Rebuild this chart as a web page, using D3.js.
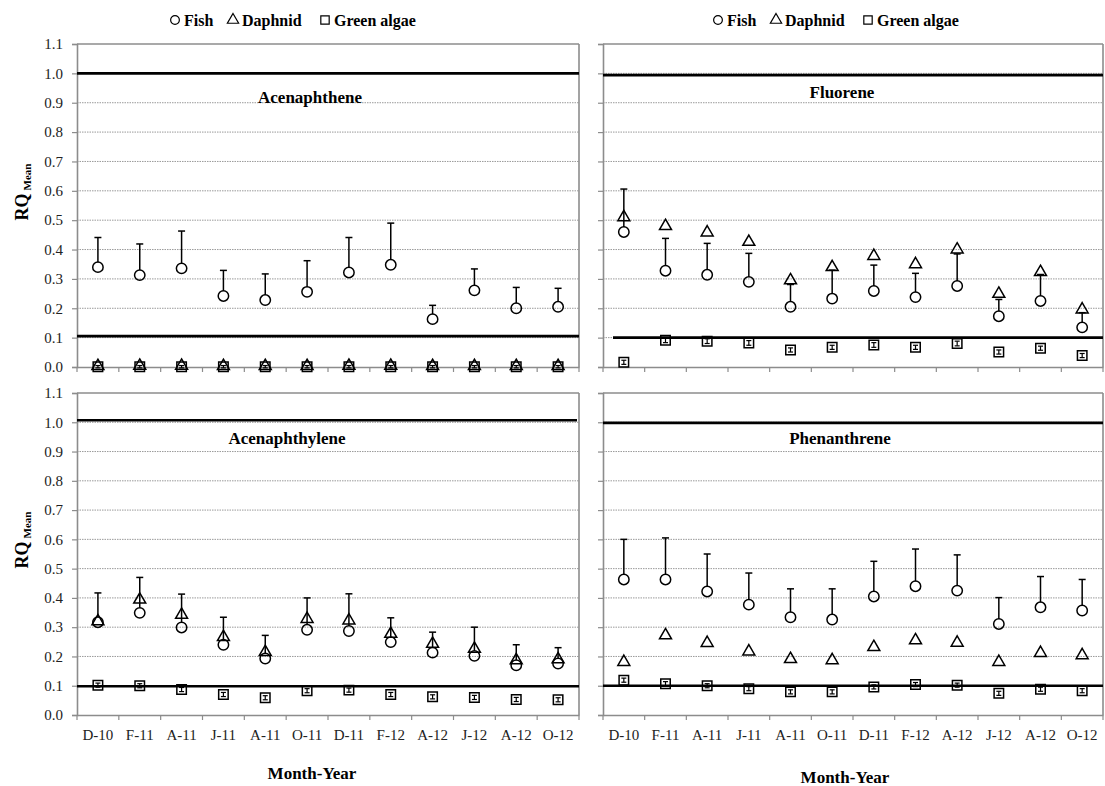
<!DOCTYPE html>
<html>
<head>
<meta charset="utf-8">
<script src="https://cdn.jsdelivr.net/npm/d3@7"></script>
<style>
  body { margin: 0; background: #fff; }
  svg { display: block; font-family: "Liberation Serif", "Times New Roman", serif; }
</style>
</head>
<body>
<div id="chart"></div>
<script>
// Meses de muestreo (eje X)
const months = ["D-10", "F-11", "A-11", "J-11", "A-11 ", "O-11", "D-11", "F-12", "A-12", "J-12", "A-12 ", "O-12"];
const seriesNames = ["Fish", "Daphnid", "Green algae"];
const yTicks = [0, 0.1, 0.2, 0.3, 0.4, 0.5, 0.6, 0.7, 0.8, 0.9, 1.0, 1.1];

// Acenaphthene
const acenaphtheneFish = [0.340, 0.313, 0.336, 0.242, 0.228, 0.256, 0.322, 0.348, 0.163, 0.261, 0.200, 0.205];
const acenaphtheneFishErr = [0.101, 0.106, 0.127, 0.087, 0.089, 0.106, 0.119, 0.142, 0.047, 0.073, 0.071, 0.063];
const acenaphtheneDaphnid = [0.003, 0.004, 0.004, 0.003, 0.003, 0.003, 0.004, 0.004, 0.003, 0.003, 0.003, 0.003];
const acenaphtheneAlgae = [0.001, 0.001, 0.001, 0.001, 0.001, 0.001, 0.001, 0.001, 0.001, 0.001, 0.001, 0.001];
const acenaphtheneAlgaeErr = [0.004, 0.004, 0.004, 0.004, 0.004, 0.004, 0.004, 0.004, 0.004, 0.004, 0.004, 0.004];

// Fluorene
const fluoreneFish = [0.460, 0.328, 0.314, 0.290, 0.205, 0.233, 0.259, 0.238, 0.276, 0.173, 0.225, 0.135];
const fluoreneFishErr = [0.146, 0.110, 0.107, 0.097, 0.076, 0.097, 0.088, 0.081, 0.109, 0.057, 0.090, 0.050];
const fluoreneDaphnid = [0.510, 0.480, 0.458, 0.426, 0.295, 0.340, 0.378, 0.350, 0.400, 0.249, 0.323, 0.196];
const fluoreneAlgae = [0.016, 0.091, 0.088, 0.082, 0.058, 0.067, 0.075, 0.067, 0.080, 0.051, 0.064, 0.039];
const fluoreneAlgaeErr = [0.007, 0.008, 0.008, 0.008, 0.007, 0.007, 0.008, 0.007, 0.008, 0.007, 0.007, 0.007];

// Acenaphthylene
const acenaphthyleneFish = [0.317, 0.349, 0.299, 0.240, 0.193, 0.291, 0.287, 0.249, 0.213, 0.202, 0.170, 0.176];
const acenaphthyleneFishErr = [0.100, 0.121, 0.114, 0.094, 0.079, 0.109, 0.127, 0.083, 0.070, 0.098, 0.070, 0.054];
const acenaphthyleneDaphnid = [0.320, 0.394, 0.342, 0.266, 0.215, 0.328, 0.323, 0.277, 0.243, 0.226, 0.187, 0.190];
const acenaphthyleneAlgae = [0.102, 0.100, 0.087, 0.070, 0.059, 0.083, 0.085, 0.070, 0.062, 0.060, 0.053, 0.052];
const acenaphthyleneAlgaeErr = [0.007, 0.007, 0.007, 0.007, 0.007, 0.007, 0.007, 0.007, 0.007, 0.007, 0.007, 0.007];

// Phenanthrene
const phenanthreneFish = [0.463, 0.463, 0.422, 0.377, 0.334, 0.326, 0.405, 0.440, 0.425, 0.311, 0.368, 0.357];
const phenanthreneFishErr = [0.137, 0.142, 0.128, 0.108, 0.097, 0.105, 0.120, 0.127, 0.122, 0.090, 0.105, 0.106];
const phenanthreneDaphnid = [0.181, 0.272, 0.246, 0.217, 0.191, 0.187, 0.232, 0.255, 0.247, 0.181, 0.212, 0.204];
const phenanthreneAlgae = [0.119, 0.107, 0.100, 0.090, 0.079, 0.079, 0.096, 0.104, 0.102, 0.074, 0.088, 0.083];
const phenanthreneAlgaeErr = [0.007, 0.007, 0.007, 0.007, 0.007, 0.007, 0.007, 0.007, 0.007, 0.007, 0.007, 0.007];

// Umbrales de riesgo dibujados en cada panel
const thresholdHigh = [1.0, 0.994, 1.007, 0.998];
const thresholdLow = [0.105, 0.100, 0.098, 0.100];

const panels = [
    { name: "Acenaphthene", fish: acenaphtheneFish, fishErr: acenaphtheneFishErr, daphnid: acenaphtheneDaphnid, algae: acenaphtheneAlgae, algaeErr: acenaphtheneAlgaeErr,
      x0: 77, x1: 579, yTop: 44, yBot: 367, col: 0, row: 0, titleX: 310, titleV: 0.92 },
    { name: "Fluorene", fish: fluoreneFish, fishErr: fluoreneFishErr, daphnid: fluoreneDaphnid, algae: fluoreneAlgae, algaeErr: fluoreneAlgaeErr,
      x0: 603, x1: 1103, yTop: 44, yBot: 367, col: 1, row: 0, titleX: 842, titleV: 0.935 },
    { name: "Acenaphthylene", fish: acenaphthyleneFish, fishErr: acenaphthyleneFishErr, daphnid: acenaphthyleneDaphnid, algae: acenaphthyleneAlgae, algaeErr: acenaphthyleneAlgaeErr,
      x0: 77, x1: 579, yTop: 393, yBot: 715, col: 0, row: 1, titleX: 287, titleV: 0.945 },
    { name: "Phenanthrene", fish: phenanthreneFish, fishErr: phenanthreneFishErr, daphnid: phenanthreneDaphnid, algae: phenanthreneAlgae, algaeErr: phenanthreneAlgaeErr,
      x0: 603, x1: 1103, yTop: 393, yBot: 715, col: 1, row: 1, titleX: 840, titleV: 0.945 }
];

const width = 1105;
const height = 786;
const gray = "#8c8c8c";

const svg = d3.select("#chart").append("svg")
    .attr("width", width)
    .attr("height", height);

const circleSym = d3.symbol().type(d3.symbolCircle).size(85);
const triSym = d3.symbol().type(d3.symbolTriangle).size(62);
const sqSym = d3.symbol().type(d3.symbolSquare).size(90);

panels.forEach((p, i) => {
    const x = d3.scaleBand().domain(months).range([p.x0, p.x1]);
    const y = d3.scaleLinear().domain([0, 1.1]).range([p.yBot, p.yTop]);
    const g = svg.append("g");

    // Líneas de cuadrícula punteadas
    g.append("g").selectAll("line")
        .data(yTicks.filter(t => t > 0 && t < 1.05))
        .join("line")
        .attr("x1", p.x0).attr("x2", p.x1)
        .attr("y1", d => y(d)).attr("y2", d => y(d))
        .attr("stroke", "#9a9a9a")
        .attr("stroke-width", 1)
        .attr("stroke-dasharray", "1.5,1");

    // Borde superior y derecho del área de trazado
    g.append("line").attr("x1", p.x0).attr("x2", p.x1).attr("y1", y(1.1)).attr("y2", y(1.1))
        .attr("stroke", gray).attr("stroke-width", 1.6);
    g.append("line").attr("x1", p.x1).attr("x2", p.x1).attr("y1", y(1.1)).attr("y2", y(0))
        .attr("stroke", gray).attr("stroke-width", 1.6);

    // Eje Y
    const yAxis = d3.axisLeft(y)
        .tickValues(yTicks)
        .tickSize(5)
        .tickPadding(9)
        .tickFormat(p.col === 0 ? d3.format(".1f") : () => "");
    const ya = g.append("g").attr("transform", `translate(${p.x0},0)`).call(yAxis);
    ya.select(".domain").attr("stroke", gray).attr("stroke-width", 1.6);
    ya.selectAll(".tick line").attr("stroke", gray).attr("stroke-width", 1.2);
    ya.selectAll(".tick text").attr("font-size", 15).attr("fill", "#222")
        .attr("font-family", "Liberation Serif");

    // Eje X
    const xAxis = d3.axisBottom(x).tickSize(0).tickPadding(14)
        .tickFormat(d => p.row === 1 ? d.trim() : "");
    const xa = g.append("g").attr("transform", `translate(0,${p.yBot})`).call(xAxis);
    xa.select(".domain").attr("stroke", gray).attr("stroke-width", 1.6);
    xa.selectAll(".tick text").attr("font-size", 15).attr("fill", "#222")
        .attr("font-family", "Liberation Serif");
    g.append("g").selectAll("line")
        .data(months.map(m => x(m)).concat([p.x1]))
        .join("line")
        .attr("x1", d => d).attr("x2", d => d)
        .attr("y1", p.yBot).attr("y2", p.yBot + 5)
        .attr("stroke", gray).attr("stroke-width", 1.2);

    // Umbrales (RQ = 1 y RQ = 0.1)
    const lowStart = p.col === 1 && p.row === 0 ? p.x0 + 10 : p.x0;
    const highEnd = p.col === 0 && p.row === 1 ? p.x1 - 2 : p.x1;
    g.append("line").attr("x1", p.x0).attr("x2", highEnd)
        .attr("y1", y(thresholdHigh[i])).attr("y2", y(thresholdHigh[i]))
        .attr("stroke", "#000").attr("stroke-width", 2.6);
    g.append("line").attr("x1", lowStart).attr("x2", p.x1)
        .attr("y1", y(thresholdLow[i])).attr("y2", y(thresholdLow[i]))
        .attr("stroke", "#000").attr("stroke-width", 2.6);

    // Título del compuesto
    g.append("text")
        .attr("x", p.titleX).attr("y", y(p.titleV))
        .attr("dy", "0.35em")
        .attr("text-anchor", "middle")
        .attr("font-size", 17).attr("font-weight", "bold")
        .text(p.name);

    const cx = m => x(m) + x.bandwidth() / 2;

    // Barras de error de peces (solo hacia arriba)
    const fishErr = g.append("g").attr("stroke", "#000").attr("stroke-width", 1.5);
    months.forEach((m, k) => {
        const top = y(p.fish[k] + p.fishErr[k]);
        fishErr.append("line").attr("x1", cx(m)).attr("x2", cx(m))
            .attr("y1", y(p.fish[k]) - 5).attr("y2", top);
        fishErr.append("line").attr("x1", cx(m) - 3.5).attr("x2", cx(m) + 3.5)
            .attr("y1", top).attr("y2", top);
    });

    // Barras de error de algas
    const algErr = g.append("g").attr("stroke", "#000").attr("stroke-width", 1.2);
    months.forEach((m, k) => {
        const lo = y(p.algae[k] - p.algaeErr[k]);
        const hi = y(p.algae[k] + p.algaeErr[k]);
        algErr.append("line").attr("x1", cx(m)).attr("x2", cx(m)).attr("y1", lo).attr("y2", hi);
        algErr.append("line").attr("x1", cx(m) - 2.5).attr("x2", cx(m) + 2.5).attr("y1", lo).attr("y2", lo);
        algErr.append("line").attr("x1", cx(m) - 2.5).attr("x2", cx(m) + 2.5).attr("y1", hi).attr("y2", hi);
    });

    // Marcadores
    g.append("g").selectAll("path")
        .data(months)
        .join("path")
        .attr("d", circleSym)
        .attr("transform", (m, k) => `translate(${cx(m)},${y(p.fish[k])})`)
        .attr("fill", "none").attr("stroke", "#000").attr("stroke-width", 1.5);
    g.append("g").selectAll("path")
        .data(months)
        .join("path")
        .attr("d", triSym)
        .attr("transform", (m, k) => `translate(${cx(m)},${y(p.daphnid[k])})`)
        .attr("fill", "none").attr("stroke", "#000").attr("stroke-width", 1.5);
    g.append("g").selectAll("path")
        .data(months)
        .join("path")
        .attr("d", sqSym)
        .attr("transform", (m, k) => `translate(${cx(m)},${y(p.algae[k])})`)
        .attr("fill", "none").attr("stroke", "#000").attr("stroke-width", 1.5);

    // Título del eje Y (solo columna izquierda)
    if (p.col === 0) {
        const cy = p.row === 0 ? 192 : 540;
        const t = svg.append("text")
            .attr("transform", `translate(28,${cy}) rotate(-90)`)
            .attr("text-anchor", "middle")
            .attr("font-weight", "bold");
        t.append("tspan").attr("font-size", 18).text("RQ");
        t.append("tspan").attr("font-size", 11).attr("dx", 3).attr("dy", 3).text("Mean");
    }
});

// Leyendas
const legendTypes = [d3.symbolCircle, d3.symbolTriangle, d3.symbolSquare];
const legendSizes = [60, 55, 70];
const legendOffsets = [0, 58, 150];
[{ x: 170 }, { x: 713 }].forEach(pos => {
    const lg = svg.append("g").attr("transform", `translate(${pos.x},20)`);
    seriesNames.forEach((s, k) => {
        const off = legendOffsets[k];
        lg.append("path")
            .attr("d", d3.symbol().type(legendTypes[k]).size(legendSizes[k]))
            .attr("transform", `translate(${off + 5},0)`)
            .attr("fill", "none").attr("stroke", "#000").attr("stroke-width", 1.2);
        lg.append("text")
            .attr("x", off + 14).attr("y", 0).attr("dy", "0.35em")
            .attr("font-size", 16).attr("font-weight", "bold")
            .text(s);
    });
});

// Títulos del eje X
[{ x: 312, y: 773 }, { x: 845, y: 777 }].forEach(pos => {
    svg.append("text")
        .attr("x", pos.x).attr("y", pos.y).attr("dy", "0.35em")
        .attr("text-anchor", "middle")
        .attr("font-size", 17).attr("font-weight", "bold")
        .text("Month-Year");
});
</script>
</body>
</html>
